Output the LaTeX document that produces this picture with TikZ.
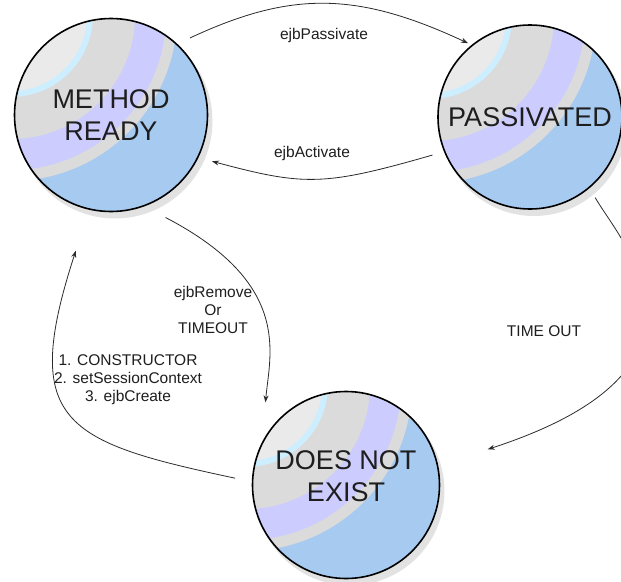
\documentclass[tikz,border=0pt]{standalone}
\usepackage{fontspec}
\setmainfont{Liberation Sans}
\usetikzlibrary{arrows.meta}
\definecolor{ballblue}{HTML}{A6CAF0}
\definecolor{ballgray}{HTML}{DBDBDB}
\definecolor{balllilac}{HTML}{CCCCFF}
\definecolor{ballline}{HTML}{CCEEFF}
\definecolor{ballcore}{HTML}{EAEAEA}
\definecolor{ballshade}{HTML}{E2E2E2}
\definecolor{textgray}{HTML}{1E1E1E}
\definecolor{linegray}{HTML}{2A2A2A}
\tikzstyle{ejbstate}=[circle,draw=black,line width=1.6pt,fill=ballblue,inner sep=0pt,
  text=textgray,font=\fontsize{27}{32}\selectfont,align=center,
  path picture={
    \fill[ballgray]  ([xshift=-100pt,yshift=100pt]path picture bounding box.center) circle (166pt);
    \fill[balllilac] ([xshift=-100pt,yshift=100pt]path picture bounding box.center) circle (155pt);
    \fill[ballgray]  ([xshift=-100pt,yshift=100pt]path picture bounding box.center) circle (124pt);
    \fill[ballline]  ([xshift=-100pt,yshift=100pt]path picture bounding box.center) circle (82pt);
    \fill[ballcore]  ([xshift=-100pt,yshift=100pt]path picture bounding box.center) circle (76pt);}]
\tikzstyle{trans}=[-{Stealth[length=7pt,width=5pt]},line width=0.8pt,draw=linegray]
\tikzstyle{translabel}=[font=\fontsize{15.5}{18}\selectfont,text=textgray,align=center]

\begin{document}
\begin{tikzpicture}[x=1pt,y=1pt]
    \useasboundingbox (0,0) rectangle (621,-581);
    % shadows under the states
    \foreach \x/\y/\r in {115/-121/97.5,534/-123/93,350/-491/94.5}
    \fill[ballshade] (\x,\y) circle (\r pt);
    \node[ejbstate,minimum size=193pt] (mready) at (111,-115) {METHOD\\READY};
    \node[ejbstate,minimum size=184pt] (passiv) at (530,-117) {PASSIVATED};
    \node[ejbstate,minimum size=187pt,text depth=18pt] (noexist) at (346,-485) {DOES NOT\\EXIST};

    \draw[trans,shorten <=14pt,shorten >=4pt] (mready.47) .. controls +(25:125pt) and +(155:127pt) .. (passiv.129);
    \draw[trans,shorten <=12pt,shorten >=14pt] (passiv.202) .. controls +(196:125pt) and +(345:110pt) .. (mready.334);
    \draw[trans,shorten <=24pt,shorten >=40pt] (mready.290) .. controls +(332.5:168pt) and +(85:88pt) .. (noexist.153);
    \draw[trans,shorten <=17pt,shorten >=43pt] (noexist.178) .. controls +(168:192pt) and +(252:224pt) .. (mready.257);
    \draw[trans,shorten <=11pt,shorten >=52pt] (passiv.310) .. controls +(300:63pt) and +(18:317pt) .. (noexist.12);

    \node[translabel] (lpassivate) at (324,-35) {ejbPassivate};
    \node[translabel] (lactivate) at (312,-153) {ejbActivate};
    \node[translabel] (lremove) at (213,-310) {ejbRemove\\Or\\TIMEOUT};
    \node[translabel] (lcreate) at (128,-380) {1. CONSTRUCTOR\\2. setSessionContext\\3. ejbCreate};
    \node[translabel] (ltimeout) at (544,-331) {TIME OUT};
\end{tikzpicture}
\end{document}
